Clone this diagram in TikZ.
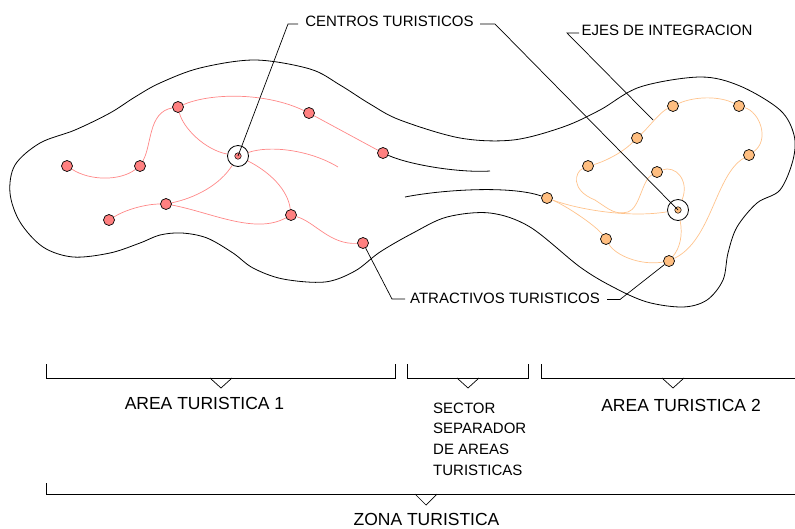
\documentclass[tikz,border=0pt]{standalone}
\usepackage{fontspec}
\setmainfont{Liberation Sans}
\pgfdeclarelayer{background}
\pgfsetlayers{background,main}
\definecolor{redfill}{RGB}{255,128,128}
\definecolor{orfill}{RGB}{255,190,128}
\definecolor{redline}{RGB}{255,135,135}
\definecolor{orline}{RGB}{255,195,140}
\begin{document}
\begin{tikzpicture}[x=1pt,y=-1pt,
  rn/.style={circle,draw=black,fill=redfill,line width=0.7pt,minimum size=11pt,inner sep=0pt},
  on/.style={circle,draw=black,fill=orfill,line width=0.7pt,minimum size=11pt,inner sep=0pt},
  ring/.style={circle,draw=black,line width=0.8pt,minimum size=21pt,inner sep=0pt},
  rdot/.style={circle,draw=black,fill=redfill,line width=0.5pt,minimum size=6.5pt,inner sep=0pt},
  odot/.style={circle,draw=black,fill=orfill,line width=0.5pt,minimum size=6.5pt,inner sep=0pt},
  redge/.style={draw=redline,line width=0.7pt},
  oedge/.style={draw=orline,line width=0.7pt},
  blk/.style={draw=black,line width=0.8pt},
  lead/.style={draw=black,line width=0.7pt},
  lbl/.style={font=\fontsize{15}{20.6}\selectfont,inner sep=0pt},
  big/.style={font=\fontsize{17.5}{21}\selectfont,inner sep=0pt}
]
\useasboundingbox (0,0) rectangle (795,528);

% outline of the zone
\draw[blk] plot[smooth cycle, tension=0.55] coordinates {
 (10,193) (15,165) (40,143) (75,130) (110,113) (135,97) (160,83) (200,68)
 (255,60) (310,69) (340,85) (370,104) (400,120) (460,138) (513,140) (563,127)
 (600,110) (640,87) (700,77) (740,86) (780,110) (794,135) (793,160) (780,190)
 (757,203) (737,227) (728,253) (723,280) (707,300) (683,307) (647,302) (613,287)
 (580,267) (530,227) (490,213) (447,217) (413,233) (380,252) (355,271) (325,282)
 (283,279) (253,268) (233,253) (207,238) (182,233) (160,235) (140,243) (110,253)
 (73,257) (43,247) (20,222)};

% red nodes (area 1)
\node[rn] (r1) at (67,166) {};
\node[rn] (r2) at (140,166) {};
\node[rn] (r3) at (178,107) {};
\node[rn] (r4) at (309,113) {};
\node[rn] (r5) at (383,153) {};
\node[rn] (r6) at (166,204) {};
\node[rn] (r7) at (109,220) {};
\node[rn] (r8) at (291,215) {};
\node[rn] (r9) at (363,243) {};
\node[ring] (c1) at (238,156) {};
\node[rdot] (c1d) at (238,156) {};
\coordinate (e1) at (338,167);

% orange nodes (area 2)
\node[on] (o1) at (673,106) {};
\node[on] (o2) at (739,106) {};
\node[on] (o3) at (637,138) {};
\node[on] (o4) at (749,155) {};
\node[on] (o5) at (588,166) {};
\node[on] (o6) at (657,172) {};
\node[on] (o7) at (547,198) {};
\node[on] (o8) at (606,239) {};
\node[on] (o9) at (669,261) {};
\node[ring] (c2) at (678,210) {};
\node[odot] (c2d) at (678,210) {};

% separator open curves
\coordinate (s1) at (490,171);
\coordinate (s2) at (405,197);

\begin{pgfonlayer}{background}
% red edges
\draw[redge] (r1) .. controls (90,181) and (120,181) .. (r2);
\draw[redge] (r2) .. controls (152,145) and (148,112) .. (r3);
\draw[redge] (r3) .. controls (210,93) and (265,92) .. (r4);
\draw[redge] (r4) -- (r5);
\draw[redge] (r3) .. controls (183,128) and (205,150) .. (c1);
\draw[redge] (c1) .. controls (270,145) and (310,150) .. (e1);
\draw[redge] (c1) .. controls (220,185) and (195,198) .. (r6);
\draw[redge] (c1) .. controls (270,172) and (288,190) .. (r8);
\draw[redge] (r7) .. controls (125,210) and (145,204) .. (r6);
\draw[redge] (r6) .. controls (210,212) and (255,235) .. (r8);
\draw[redge] (r8) .. controls (315,222) and (330,245) .. (r9);
% orange edges
\draw[oedge] (o1) .. controls (695,96) and (720,96) .. (o2);
\draw[oedge] (o2) .. controls (760,112) and (770,140) .. (o4);
\draw[oedge] (o4) .. controls (715,175) and (712,240) .. (o9);
\draw[oedge] (o1) .. controls (660,112) and (648,128) .. (o3);
\draw[oedge] (o3) .. controls (620,155) and (600,163) .. (o5);
\draw[oedge] (o5) .. controls (575,172) and (570,190) .. (595,200)
                  .. controls (610,210) and (615,215) .. (628,212)
                  .. controls (640,208) and (642,180) .. (o6);
\draw[oedge] (o6) .. controls (675,165) and (690,180) .. (c2);
\draw[oedge] (o7) .. controls (580,210) and (630,218) .. (c2);
\draw[oedge] (o7) .. controls (565,205) and (595,225) .. (o8);
\draw[oedge] (o8) .. controls (615,255) and (640,266) .. (o9);
\draw[oedge] (c2) .. controls (683,235) and (680,248) .. (o9);
% black separator curves
\draw[blk] (r5) .. controls (410,165) and (460,173) .. (s1);
\draw[blk] (s2) .. controls (440,190) and (510,185) .. (o7);
\end{pgfonlayer}

% labels and leaders
\node[lbl] (tcen) at (389.5,21.5) {CENTROS TURISTICOS};
\coordinate (cl1) at (288,24); \coordinate (cl2) at (298,24);
\coordinate (cr1) at (480,24); \coordinate (cr2) at (495,24);
\draw[lead] (cl2) -- (cl1) -- (c1d.center);
\draw[lead] (cr1) -- (cr2) -- (c2d.center);

\node[lbl] (tejes) at (667,30) {EJES DE INTEGRACION};
\coordinate (ej1) at (579,33); \coordinate (ej2) at (567,33);
\coordinate (ej) at (653,120);
\draw[lead] (ej1) -- (ej2) -- (ej);

\node[lbl] (tatr) at (505,298.5) {ATRACTIVOS TURISTICOS};
\coordinate (al1) at (405,299); \coordinate (al2) at (392,299);
\coordinate (ar1) at (607,299.5); \coordinate (ar2) at (620,299.5);
\draw[lead] (al1) -- (al2) -- (r9);
\draw[lead] (ar1) -- (ar2) -- (o9);

% brackets
\coordinate (b1a) at (46,364); \coordinate (b1b) at (395,364);
\draw[lead] (b1a) -- (46,378) -- (395,378) -- (b1b);
\draw[lead] (210,378) -- (221,388) -- (232,378);
\coordinate (b2a) at (407,364); \coordinate (b2b) at (528,364);
\draw[lead] (b2a) -- (407,378) -- (528,378) -- (b2b);
\draw[lead] (457,378) -- (468,388) -- (479,378);
\coordinate (b3a) at (541,364); \coordinate (b3b) at (795,378);
\draw[lead] (b3a) -- (541,378) -- (b3b);
\draw[lead] (662,378) -- (673,388) -- (684,378);
\coordinate (b4a) at (46,483); \coordinate (b4b) at (795,494);
\draw[lead] (b4a) -- (46,494) -- (b4b);
\draw[lead] (415,494) -- (426,505) -- (437,494);

\node[big] (ta1) at (204.5,403) {AREA TURISTICA 1};
\node[big] (ta2) at (681,405) {AREA TURISTICA 2};
\node[lbl,align=left,anchor=north west] (tsec) at (433,402.7)
  {SECTOR\\SEPARADOR\\DE AREAS\\TURISTICAS};
\node[big] (tzona) at (426.5,519) {ZONA TURISTICA};
\end{tikzpicture}
\end{document}
